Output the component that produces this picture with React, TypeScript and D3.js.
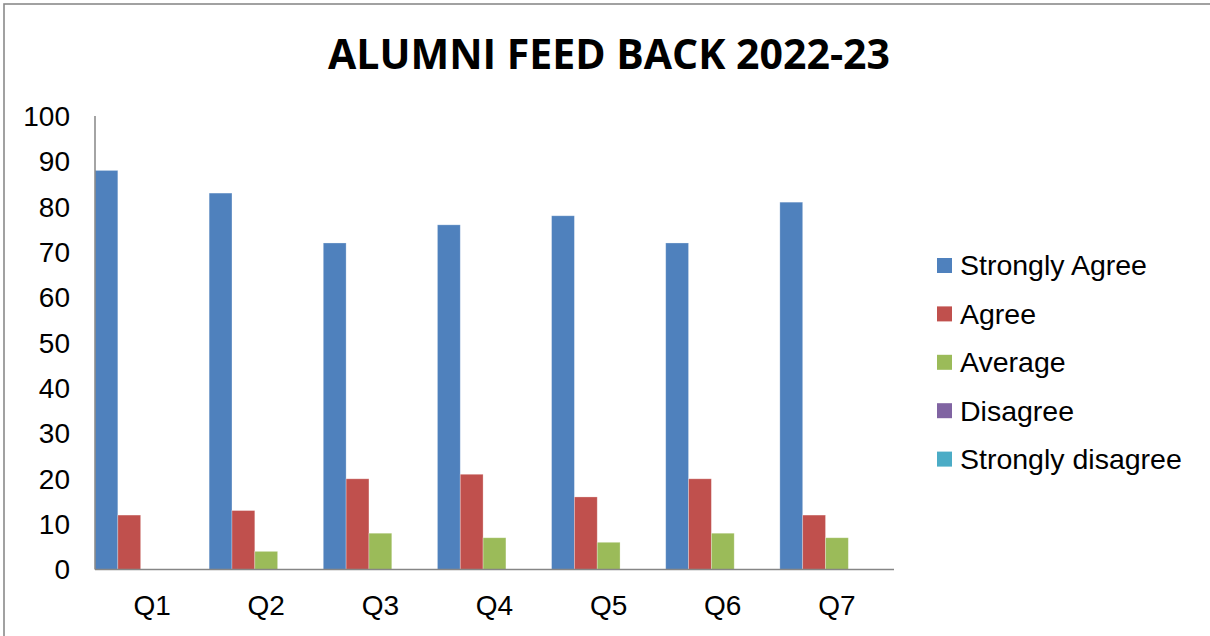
import React from "react";
import * as d3 from "d3";

const categories = ["Q1", "Q2", "Q3", "Q4", "Q5", "Q6", "Q7"];
const seriesNames = ["Strongly Agree", "Agree", "Average", "Disagree", "Strongly disagree"];
const stronglyAgree = [88, 83, 72, 76, 78, 72, 81];
const agree = [12, 13, 20, 21, 16, 20, 12];
const average = [0, 4, 8, 7, 6, 8, 7];
const disagree = [0, 0, 0, 0, 0, 0, 0];
const stronglyDisagree = [0, 0, 0, 0, 0, 0, 0];
const yTicks = [0, 10, 20, 30, 40, 50, 60, 70, 80, 90, 100];
const colors = ["#4F81BD", "#C0504D", "#9BBB59", "#8064A2", "#4BACC6"];
const title = "ALUMNI FEED BACK 2022-23";

const seriesValues = [stronglyAgree, agree, average, disagree, stronglyDisagree];

export default function App() {
  const W = 1210;
  const H = 636;
  const plotLeft = 95;
  const plotRight = 894;
  const plotTop = 116;
  const plotBottom = 569.5;

  const x0 = d3.scaleBand<string>().domain(categories).range([plotLeft, plotRight]).paddingInner(0).paddingOuter(0);
  const x1 = d3.scaleBand<string>().domain(seriesNames).range([0, x0.bandwidth()]).padding(0);
  const y = d3.scaleLinear().domain([0, 100]).range([plotBottom, plotTop]);

  const font = "'Liberation Sans', Arial, sans-serif";

  return (
    <svg width={W} height={H} style={{ position: "absolute", left: 0, top: 0, background: "#fff" }}>
      <rect x={4} y={4} width={W + 10} height={H + 10} fill="#fff" stroke="#8a8a8a" strokeWidth={1.6} />
      <text x={609} y={69} textAnchor="middle" fontFamily="'Open Sans', sans-serif" fontWeight={700} fontSize={42}
        textLength={562} lengthAdjust="spacingAndGlyphs" fill="#000">{title}</text>

      {seriesValues.map((vals, si) => (
        <g key={seriesNames[si]}>
          {categories.map((c, ci) => {
            const v = vals[ci];
            if (v <= 0) return null;
            return (
              <rect key={c} x={(x0(c) as number) + (x1(seriesNames[si]) as number)} y={y(v)}
                width={x1.bandwidth()} height={y(0) - y(v)} fill={colors[si]}
                stroke="#ffffff" strokeOpacity={0.35} strokeWidth={0.8} />
            );
          })}
        </g>
      ))}

      <line x1={plotLeft} x2={plotLeft} y1={plotTop} y2={plotBottom} stroke="#868686" strokeWidth={1.5} />
      <line x1={plotLeft} x2={plotRight} y1={plotBottom} y2={plotBottom} stroke="#868686" strokeWidth={1.5} />

      {yTicks.map((t) => (
        <text key={t} x={70} y={y(t)} dy="0.35em" textAnchor="end" fontFamily={font} fontSize={28} fill="#000">{t}</text>
      ))}

      {categories.map((c) => (
        <text key={c} x={(x0(c) as number) + x0.bandwidth() / 2} y={605} dy="0.35em" textAnchor="middle"
          fontFamily={font} fontSize={28} fill="#000">{c}</text>
      ))}

      {seriesNames.map((s, i) => {
        const cy = 265.5 + i * 48.4;
        return (
          <g key={s}>
            <rect x={937} y={cy - 7.5} width={15} height={15} fill={colors[i]} />
            <text x={960} y={cy} dy="0.35em" fontFamily={font} fontSize={28.5} fill="#000">{s}</text>
          </g>
        );
      })}
    </svg>
  );
}
